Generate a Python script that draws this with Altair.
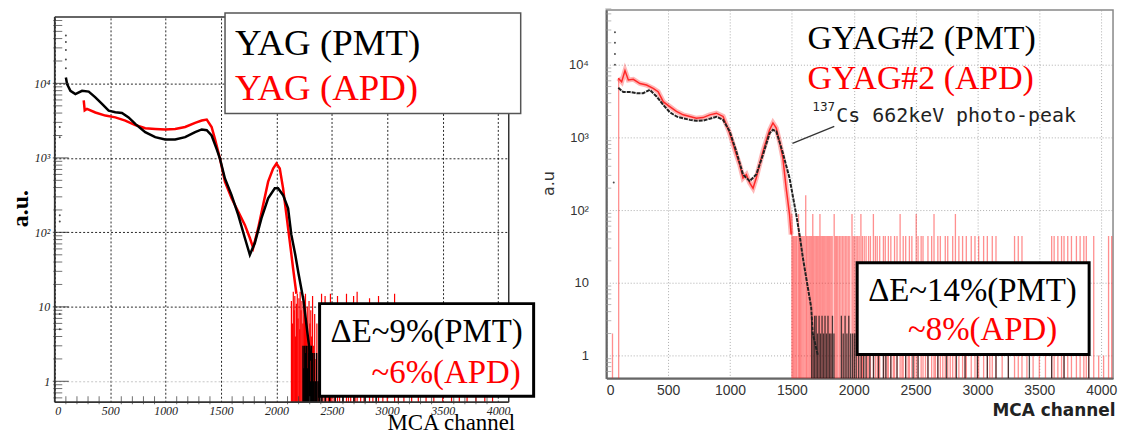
import altair as alt
import pandas as pd

# ---------------- shared axis values ----------------
x_tick_values = [0, 500, 1000, 1500, 2000, 2500, 3000, 3500, 4000]
y_tick_values = [1, 10, 100, 1000, 10000]
y_tick_text = "datum.value == 1 ? '1' : datum.value == 10 ? '10' : datum.value == 100 ? '10\u00b2' : datum.value == 1000 ? '10\u00b3' : '10\u2074'"
x_minor_left = [100, 200, 300, 400, 600, 700, 800, 900, 1100, 1200, 1300, 1400, 1600, 1700, 1800, 1900,
                2100, 2200, 2300, 2400, 2600, 2700, 2800, 2900, 3100, 3200, 3300, 3400, 3600, 3700, 3800, 3900]
y_minor = [0.6, 0.7, 0.8, 0.9, 2, 3, 4, 5, 6, 7, 8, 9, 20, 30, 40, 50, 60, 70, 80, 90,
           200, 300, 400, 500, 600, 700, 800, 900, 2000, 3000, 4000, 5000, 6000, 7000, 8000, 9000,
           20000, 30000, 40000, 50000, 60000, 70000]

# ---------------- left panel: YAG ----------------
yag_pmt_ch = [100, 111, 141, 186, 246, 306, 366, 426, 486, 546, 606, 666, 726, 816, 906, 996, 1086, 1176,
              1266, 1326, 1371, 1415, 1460, 1490, 1535, 1595, 1655, 1715, 1760, 1805, 1865, 1925, 1985,
              2015, 2060, 2105, 2134, 2170, 2199, 2245, 2280, 2311]
yag_pmt_val = [12000, 9800, 7950, 7200, 7950, 7760, 6500, 5300, 4300, 4100, 4000, 3500, 2860, 2220, 1900,
               1770, 1770, 1900, 2220, 2410, 2350, 2000, 1320, 980, 530, 316, 172, 84, 50, 72, 155, 287, 390,
               390, 316, 210, 94, 50, 28, 12, 4.4, 1.9]
yag_pmt_dots_ch = [100, 100, 100, 100, 100, 45, 45, 45, 45, 45, 45]
yag_pmt_dots_val = [16000, 21000, 28000, 36000, 44000, 2600, 1900, 170, 140, 8, 5]

yag_apd_ch = [261, 270, 290, 366, 456, 546, 636, 726, 816, 906, 996, 1086, 1176, 1266, 1326, 1371, 1415,
              1445, 1490, 1535, 1595, 1655, 1715, 1760, 1790, 1835, 1880, 1925, 1970, 2000, 2030, 2060,
              2090, 2120, 2150, 2180]
yag_apd_val = [5900, 4350, 4540, 4070, 3700, 3500, 3170, 2760, 2500, 2450, 2410, 2450, 2600, 2960, 3170,
               3270, 2600, 1800, 980, 480, 287, 190, 126, 84, 62, 114, 234, 480, 720, 840, 720, 390, 172,
               76, 33, 15]

yag_apd_noise_ch = [2135, 2145, 2152, 2160, 2166, 2172, 2180, 2188, 2195, 2203, 2210, 2214, 2222, 2230, 2238,
                    2246, 2254, 2262, 2270, 2278, 2286, 2294, 2302, 2310, 2318, 2326, 2334, 2345, 2356, 2365,
                    2378, 2390, 2407, 2420, 2439, 2455, 2470, 2487, 2500, 2520, 2551, 2570, 2600, 2632, 2650,
                    2670, 2696, 2710, 2728, 2760, 2790, 2840, 2870, 2921, 2960, 3000, 3066, 3100, 3150, 3220,
                    3280, 3350, 3420, 3500, 3580, 3650, 3720, 3800, 3880, 3950]
yag_apd_noise_val = [12, 6, 16, 9, 14, 4, 11, 15, 7, 13, 5, 16, 9, 12, 6, 14, 8, 15, 5, 10, 3, 12, 6, 9, 4,
                     14, 3, 8, 2, 6, 1, 4, 15, 2, 14, 1, 3, 15, 1, 2, 14, 1, 3, 15, 1, 2, 14, 1, 16, 1, 2,
                     13, 1, 14, 1, 2, 15, 1, 1, 1, 1, 1, 1, 1, 1, 1, 1, 1, 1, 1]
yag_pmt_noise_ch = [2240, 2248, 2256, 2262, 2270, 2278, 2286, 2294, 2300, 2308, 2316, 2324, 2332, 2340, 2350,
                    2362, 2375, 2390, 2410, 2440, 2480, 2530, 2600, 2700, 2800, 2900]
yag_pmt_noise_val = [3, 1.5, 3, 2.4, 3, 1.5, 3, 2.4, 3, 1, 3, 2.4, 1, 2.4, 1, 2.4, 1, 1, 1, 1, 1, 1, 1, 1, 1, 1]

# ---------------- right panel: GYAG#2 ----------------
gyag_pmt_ch = [97, 137, 191, 245, 298, 352, 406, 460, 513, 567, 621, 675, 728, 782, 836, 890, 944, 997, 1051,
               1105, 1159, 1212, 1266, 1320, 1347, 1374, 1427, 1481, 1535, 1562, 1589, 1629, 1656, 1669, 1710]
gyag_pmt_val = [4800, 4200, 4200, 4050, 4050, 4500, 3650, 2800, 2220, 1940, 1830, 1740, 1690, 1700, 1800,
                1920, 1740, 1210, 640, 308, 250, 308, 575, 1140, 1270, 1210, 610, 276, 87, 46, 22, 8.6, 4.6,
                2, 1]
gyag_pmt_dots_ch = [70, 70, 70, 70, 60]
gyag_pmt_dots_val = [10000, 14000, 20000, 28000, 240]

gyag_apd_ch = [97, 124, 151, 178, 218, 272, 325, 379, 419, 460, 513, 567, 621, 675, 728, 782, 836, 890,
               944, 997, 1051, 1078, 1105, 1132, 1159, 1186, 1212, 1266, 1320, 1347, 1374, 1400, 1427,
               1454, 1481, 1494]
gyag_apd_val = [6500, 5800, 8300, 6150, 6300, 5500, 5250, 4730, 4250, 3100, 2650, 2270, 2040, 1940, 1830,
                1870, 2040, 2150, 1940, 1140, 575, 420, 276, 308, 236, 200, 276, 640, 1270, 1580, 1340,
                880, 520, 200, 87, 46]

gyag_apd_noise_ch = [50, 100,
                     1500, 1508, 1516, 1525, 1534, 1542, 1554, 1562, 1570, 1580, 1590, 1600, 1612, 1620, 1630,
                     1640, 1650, 1660, 1669, 1678, 1688, 1698, 1708, 1718, 1727, 1736, 1746, 1756, 1766, 1776,
                     1786, 1796, 1806, 1816, 1826, 1842, 1852, 1862, 1872, 1884, 1896, 1908, 1920, 1932, 1944,
                     1956, 1968, 1986, 1996, 2008, 2020, 2032, 2044, 2058,
                     2070, 2085, 2100, 2120, 2135, 2159, 2175, 2190, 2210, 2240, 2255, 2280, 2300, 2330, 2350,
                     2375, 2400, 2420, 2450, 2470, 2505, 2520, 2545, 2560, 2600, 2630, 2649, 2680, 2700, 2740,
                     2760, 2800, 2822, 2850, 2880, 2910, 2950, 2980, 3010, 3050, 3080, 3120, 3150, 3300, 3330,
                     3360, 3600, 3620, 3650, 3680, 3700, 3730, 3760, 3800, 3830, 3860, 3880, 3940, 4060, 4085,
                     2065, 2110, 2200, 2270, 2320, 2390, 2440, 2490, 2580, 2660, 2720, 2780, 2900, 3000, 3100,
                     3200, 3250, 3400, 3450, 3500, 3550, 3900, 3980, 4020]
gyag_apd_noise_val = [2, 6500,
                      88, 44, 44, 44, 44, 44, 88, 44, 44, 44, 44, 44, 160, 44, 44,
                      44, 44, 44, 88, 44, 44, 44, 44, 44, 88, 44, 44, 44, 44, 44,
                      44, 44, 44, 44, 44, 88, 44, 44, 44, 44, 44, 44, 44, 44, 44,
                      44, 44, 88, 44, 44, 44, 44, 44, 88,
                      44, 44, 44, 44, 44, 88, 44, 44, 44, 44, 44, 44, 44, 44, 44,
                      88, 44, 44, 44, 44, 88, 44, 44, 44, 44, 44, 88, 44, 44, 44,
                      44, 44, 88, 44, 44, 44, 44, 44, 44, 44, 44, 44, 44, 44, 44,
                      44, 44, 44, 44, 44, 44, 44, 44, 44, 44, 44, 44, 44, 44, 44,
                      1, 1, 1, 1, 1, 1, 1, 1, 1, 1, 1, 1, 1, 1, 1,
                      1, 1, 1, 1, 1, 1, 1, 1, 1]
gyag_pmt_noise_ch = [1660, 1672, 1684, 1696, 1708, 1720, 1732, 1744, 1756, 1768, 1780, 1792, 1804, 1816, 1828,
                     1840, 1900, 1915, 1930, 1945, 1960, 1975, 1990, 2005, 2020, 2040, 2060, 2080, 2100, 2130,
                     2160, 2200, 2240, 2260, 2300, 2350, 2420, 2480, 2520, 2600, 2680, 2750, 2830, 2900, 3000,
                     3080, 3150, 3250, 3420, 3600, 3700, 3900]
gyag_pmt_noise_val = [3.5, 2, 3.5, 3.5, 2, 3.5, 2, 3.5, 2, 3.5, 2, 3.5, 2, 2, 3.5,
                      2, 3.5, 2, 3.5, 2, 3.5, 2, 2, 2, 2, 2, 2, 2, 1, 2,
                      1, 2, 2, 1, 1, 1, 1, 1, 1, 1, 1, 1, 1, 1, 1,
                      1, 1, 1, 1, 1, 1, 1]

BASE = 0.3
one = pd.DataFrame({"a": [0]})


def series(ch, val):
    return pd.DataFrame({"ch": ch, "v": val, "base": [BASE] * len(ch)})


def txt(s, x, y, size, color, font, align="left", weight="normal", style="normal"):
    return alt.Chart(pd.DataFrame({"t": [s]})).mark_text(
        align=align, baseline="alphabetic", fontSize=size, color=color, font=font,
        fontWeight=weight, fontStyle=style
    ).encode(x=alt.value(x), y=alt.value(y), text="t:N")


def box(x1, x2, y1, y2, stroke, sw, fill="white"):
    return alt.Chart(one).mark_rect(fill=fill, stroke=stroke, strokeWidth=sw).encode(
        x=alt.value(x1), x2=alt.value(x2), y=alt.value(y1), y2=alt.value(y2))


def edge(x1, x2, y1, y2, color, sw):
    return alt.Chart(one).mark_rule(color=color, strokeWidth=sw).encode(
        x=alt.value(x1), x2=alt.value(x2), y=alt.value(y1), y2=alt.value(y2))


# ================= LEFT =================
# plot area runs 7px higher than the frame so that it lines up with the right panel's top
LW, LH, LTOP = 456, 394, 7
lx_scale = alt.Scale(domain=[0, 4096], nice=False)
ly_scale = alt.Scale(type="log", domain=[0.525, 96900], nice=False)
lx_axis = alt.Axis(values=x_tick_values, format="d", labelFont="Liberation Serif", labelFontStyle="italic",
                   labelFontSize=12, labelColor="#222", labelPadding=3, ticks=False, domain=False,
                   grid=True, gridColor="black", gridDash=[2, 2], gridOpacity=0.85,
                   title="MCA channel", titleFont="Liberation Serif", titleFontSize=23, titleFontWeight="normal",
                   titleColor="black", titleX=462, titleY=27, titleAlign="right", titleBaseline="alphabetic")
ly_axis = alt.Axis(values=y_tick_values, labelExpr=y_tick_text, labelFont="Liberation Serif",
                   labelFontStyle="italic", labelFontSize=12, labelColor="#222", labelPadding=5, ticks=False,
                   domain=False, grid=True,
                   gridColor=alt.condition("datum.value === 1", alt.value("#bbbbbb"), alt.value("black")),
                   gridDash=[2, 2], gridOpacity=0.85,
                   title="a.u.", titleFont="Liberation Serif", titleFontSize=24, titleFontWeight="bold",
                   titleColor="black", titleAngle=270, titleX=-34, titleY=199, titleAlign="center",
                   titleBaseline="middle")
lx = alt.X("ch:Q", scale=lx_scale, axis=lx_axis)
ly = alt.Y("v:Q", scale=ly_scale, axis=ly_axis)

l_red_noise = alt.Chart(series(yag_apd_noise_ch, yag_apd_noise_val)).mark_rule(
    color="#ff0000", strokeWidth=1.2, clip=True).encode(x=lx, y=ly, y2="base:Q")
l_blk_noise = alt.Chart(series(yag_pmt_noise_ch, yag_pmt_noise_val)).mark_rule(
    color="black", strokeWidth=1.5, clip=True).encode(x=lx, y=ly, y2="base:Q")
l_red = alt.Chart(series(yag_apd_ch, yag_apd_val)).mark_line(
    color="#ff0000", strokeWidth=2.5, clip=True).encode(x=lx, y=ly)
l_blk = alt.Chart(series(yag_pmt_ch, yag_pmt_val)).mark_line(
    color="black", strokeWidth=2.5, clip=True).encode(x=lx, y=ly)
l_dots = alt.Chart(series(yag_pmt_dots_ch, yag_pmt_dots_val)).mark_point(
    color="black", size=4, filled=True, clip=True).encode(x=lx, y=ly)
l_ytick = alt.Chart(pd.DataFrame({"v": y_minor})).mark_tick(
    orient="horizontal", color="#333", size=9, thickness=1).encode(x=alt.value(3), y=ly)
l_ymaj = alt.Chart(pd.DataFrame({"v": y_tick_values})).mark_tick(
    orient="horizontal", color="#333", size=16, thickness=1.2).encode(x=alt.value(6), y=ly)
l_xtick = alt.Chart(pd.DataFrame({"ch": x_minor_left})).mark_tick(
    orient="vertical", color="#333", size=8, thickness=1).encode(x=lx, y=alt.value(LH - 2))

left = alt.layer(
    l_red_noise, l_blk_noise, l_red, l_blk, l_dots, l_ytick, l_ymaj, l_xtick,
    box(-2, LW + 2, -2, LTOP - 0.5, "white", 0),
    edge(0, LW, LTOP, LTOP, "#333", 1.5),
    edge(LW, LW, LTOP, LH, "#333", 1.5),
    edge(0, 0, LTOP, LH, "#333", 1.8),
    edge(0, LW, LH, LH, "#333", 1.8),
    box(171, 468, 3, 104, "#555", 1.5),
    txt("YAG (PMT)", 181, 45, 37, "black", "Liberation Serif"),
    txt("YAG (APD)", 181, 90, 37, "#ff0000", "Liberation Serif"),
    box(266, 481, 295, 388, "black", 3),
    txt("\u0394E~9%(PMT)", 277, 334, 33, "black", "Liberation Serif"),
    txt("~6%(APD)", 468, 375, 33, "#ff0000", "Liberation Serif", align="right"),
).properties(width=LW, height=LH, view=alt.ViewBackground(strokeOpacity=0))

# ================= RIGHT =================
RW, RH = 509, 370
rx_scale = alt.Scale(domain=[0, 4096], nice=False)
ry_scale = alt.Scale(type="log", domain=[0.484, 56600], nice=False)
rx_axis = alt.Axis(values=x_tick_values, format="d", labelFont="Liberation Sans", labelFontSize=14,
                   labelColor="#333", labelPadding=5, ticks=False, domainColor="#666", domainWidth=2,
                   grid=True, gridColor="#999", gridDash=[1, 2], gridOpacity=0.8,
                   title="MCA channel", titleFont="DejaVu Sans", titleFontSize=17, titleFontWeight="bold",
                   titleColor="#222", titleX=511, titleY=37, titleAlign="right", titleBaseline="alphabetic")
ry_axis = alt.Axis(values=y_tick_values, labelExpr=y_tick_text, labelFont="Liberation Sans", labelFontSize=13,
                   labelColor="#333", labelPadding=18, ticks=False, domainColor="#666", domainWidth=2,
                   grid=True, gridColor="#999", gridDash=[1, 2], gridOpacity=0.8,
                   title="a.u", titleFont="DejaVu Sans", titleFontSize=16, titleFontWeight="normal",
                   titleColor="#333", titleAngle=270, titleX=-58, titleY=174, titleAlign="center",
                   titleBaseline="middle")
rx = alt.X("ch:Q", scale=rx_scale, axis=rx_axis)
ry = alt.Y("v:Q", scale=ry_scale, axis=ry_axis)

r_red_noise = alt.Chart(series(gyag_apd_noise_ch, gyag_apd_noise_val)).mark_rule(
    color="#ff2020", strokeWidth=1.3, opacity=0.5, clip=True).encode(x=rx, y=ry, y2="base:Q")
r_blk_noise = alt.Chart(series(gyag_pmt_noise_ch, gyag_pmt_noise_val)).mark_rule(
    color="#111", strokeWidth=1.3, opacity=0.75, clip=True).encode(x=rx, y=ry, y2="base:Q")
r_red_band = alt.Chart(series(gyag_apd_ch, gyag_apd_val)).mark_line(
    color="#ff3030", strokeWidth=5, opacity=0.35, clip=True).encode(x=rx, y=ry)
r_red = alt.Chart(series(gyag_apd_ch, gyag_apd_val)).mark_line(
    color="#ff1010", strokeWidth=1.5, opacity=0.85, clip=True).encode(x=rx, y=ry)
r_blk = alt.Chart(series(gyag_pmt_ch, gyag_pmt_val)).mark_line(
    color="#222", strokeWidth=2, strokeDash=[4, 1], clip=True).encode(x=rx, y=ry)
r_dots = alt.Chart(series(gyag_pmt_dots_ch, gyag_pmt_dots_val)).mark_point(
    color="black", size=4, filled=True, clip=True).encode(x=rx, y=ry)
r_ytick = alt.Chart(pd.DataFrame({"v": y_minor})).mark_tick(
    orient="horizontal", color="#999", size=6, thickness=1).encode(x=alt.value(2), y=ry)

right = alt.layer(
    r_red_noise, r_blk_noise, r_red_band, r_red, r_blk, r_dots, r_ytick,
    txt("GYAG#2 (PMT)", 202, 39, 34, "black", "Liberation Serif"),
    txt("GYAG#2 (APD)", 202, 79, 34, "#ff0000", "Liberation Serif"),
    txt("137", 207, 102, 12, "#222", "DejaVu Sans"),
    txt("Cs 662keV photo-peak", 231, 113, 20, "#222", "DejaVu Sans Mono"),
    edge(229, 187, 117, 134, "#333", 1.3),
    box(252, 485, 254, 346, "black", 3),
    txt("\u0394E~14%(PMT)", 263, 292, 33, "black", "Liberation Serif"),
    txt("~8%(APD)", 303, 332, 33, "#ff0000", "Liberation Serif"),
).properties(width=RW, height=RH, view=alt.ViewBackground(stroke="#888", strokeWidth=1.5))

chart = alt.hconcat(left, right, spacing=98, bounds="flush").properties(
    padding={"left": 1, "top": -7, "right": 0, "bottom": 0},
    background="white",
)

chart.save("out.html", embed_options={"renderer": "svg", "actions": False})
